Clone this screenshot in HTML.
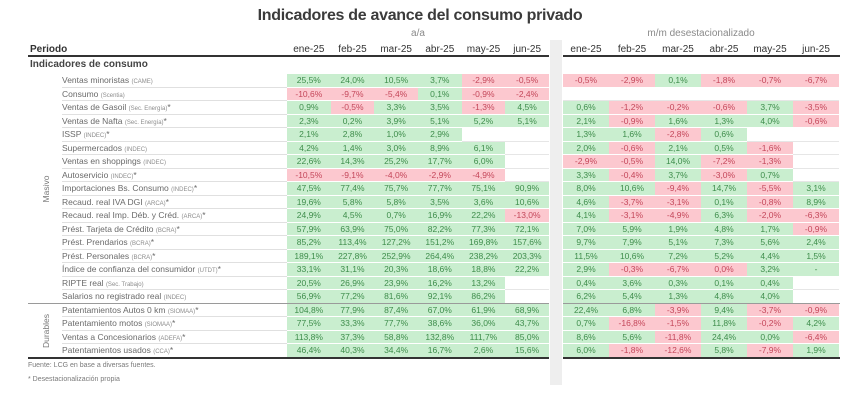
<!DOCTYPE html>
<html><head><meta charset="utf-8">
<style>
*{margin:0;padding:0;box-sizing:border-box}
body{width:850px;height:403px;background:#fff;position:relative;overflow:hidden;font-family:"Liberation Sans",sans-serif}
.a{position:absolute;white-space:nowrap}
.title{left:0;width:840px;top:6px;text-align:center;font-size:16px;font-weight:bold;color:#3b3b3b;letter-spacing:-0.3px;line-height:20px}
.sub{top:28px;font-size:10px;color:#8a8a8a;text-align:center;line-height:12px}
.hd{top:44px;font-size:10px;color:#333;text-align:center;line-height:12px}
.row{position:absolute;left:0;width:850px;height:13.5px}
.lb{position:absolute;left:62px;top:0;width:225px;height:13.5px;border-bottom:1px solid #e0e0e0;font-size:8.5px;color:#6a6a6a;line-height:13px;white-space:nowrap}
.lb small{font-size:6px;color:#8c8c8c}
.L,.R{position:absolute;top:0;display:flex;height:13.5px}
.L{left:287px}.R{left:563px}
.L span{width:43.67px}.R span{width:46px}
.L span,.R span{display:block;height:13.5px;border-bottom:1px solid #fff;font-size:8.5px;text-align:center;line-height:13px}
.g{background:#c9eecf;color:#3e8d4b}
.r{background:#fcc8cf;color:#c4475a}
.b{border-bottom:1px solid #e6e6e6 !important;background:#fff}
.line{position:absolute;height:2px;background:#333}
.thin{position:absolute;height:1px;background:#9a9a9a}
.rot{position:absolute;font-size:8.5px;color:#777;transform:rotate(-90deg);transform-origin:center center;text-align:center;width:60px;height:12px;line-height:12px}
.fn{left:28px;font-size:7px;color:#7a7a7a;line-height:9px}
</style></head><body>

<div class="a title">Indicadores de avance del consumo privado</div>
<div class="a sub" style="left:368px;width:100px">a/a</div>
<div class="a sub" style="left:601px;width:200px">m/m desestacionalizado</div>

<div style="position:absolute;left:550px;top:40px;width:12px;height:345px;background:#eeeeee"></div>

<div class="a" style="left:30px;top:44px;font-size:10px;font-weight:bold;color:#333;line-height:12px">Periodo</div>
<div class="a hd" style="left:287px;width:43.67px">ene-25</div>
<div class="a hd" style="left:330.67px;width:43.67px">feb-25</div>
<div class="a hd" style="left:374.33px;width:43.67px">mar-25</div>
<div class="a hd" style="left:418px;width:43.67px">abr-25</div>
<div class="a hd" style="left:461.67px;width:43.67px">may-25</div>
<div class="a hd" style="left:505.33px;width:43.67px">jun-25</div>
<div class="a hd" style="left:563px;width:46px">ene-25</div>
<div class="a hd" style="left:609px;width:46px">feb-25</div>
<div class="a hd" style="left:655px;width:46px">mar-25</div>
<div class="a hd" style="left:701px;width:46px">abr-25</div>
<div class="a hd" style="left:747px;width:46px">may-25</div>
<div class="a hd" style="left:793px;width:46px">jun-25</div>

<div class="line" style="left:28px;width:521px;top:55px"></div>
<div class="line" style="left:563px;width:277px;top:55px"></div>

<div class="a" style="left:30px;top:59px;font-size:10px;font-weight:bold;color:#444;line-height:12px">Indicadores de consumo</div>

<div class="row" style="top:74px"><div class="lb">Ventas minoristas <small>(CAME)</small></div>
<div class="L"><span class="g">25,5%</span><span class="g">24,0%</span><span class="g">10,5%</span><span class="g">3,7%</span><span class="r">-2,9%</span><span class="r">-0,5%</span></div>
<div class="R"><span class="r">-0,5%</span><span class="r">-2,9%</span><span class="g">0,1%</span><span class="r">-1,8%</span><span class="r">-0,7%</span><span class="r">-6,7%</span></div></div>

<div class="row" style="top:87.5px"><div class="lb">Consumo <small>(Scentia)</small></div>
<div class="L"><span class="r">-10,6%</span><span class="r">-9,7%</span><span class="r">-5,4%</span><span class="g">0,1%</span><span class="r">-0,9%</span><span class="r">-2,4%</span></div>
<div class="R"><span class="b"></span><span class="b"></span><span class="b"></span><span class="b"></span><span class="b"></span><span class="b"></span></div></div>

<div class="row" style="top:101px"><div class="lb">Ventas de Gasoil <small>(Sec. Energía)</small>*</div>
<div class="L"><span class="g">0,9%</span><span class="r">-0,5%</span><span class="g">3,3%</span><span class="g">3,5%</span><span class="r">-1,3%</span><span class="g">4,5%</span></div>
<div class="R"><span class="g">0,6%</span><span class="r">-1,2%</span><span class="r">-0,2%</span><span class="r">-0,6%</span><span class="g">3,7%</span><span class="r">-3,5%</span></div></div>

<div class="row" style="top:114.5px"><div class="lb">Ventas de Nafta <small>(Sec. Energía)</small>*</div>
<div class="L"><span class="g">2,3%</span><span class="g">0,2%</span><span class="g">3,9%</span><span class="g">5,1%</span><span class="g">5,2%</span><span class="g">5,1%</span></div>
<div class="R"><span class="g">2,1%</span><span class="r">-0,9%</span><span class="g">1,6%</span><span class="g">1,3%</span><span class="g">4,0%</span><span class="r">-0,6%</span></div></div>

<div class="row" style="top:128px"><div class="lb">ISSP <small>(INDEC)</small>*</div>
<div class="L"><span class="g">2,1%</span><span class="g">2,8%</span><span class="g">1,0%</span><span class="g">2,9%</span><span class="b"></span><span class="b"></span></div>
<div class="R"><span class="g">1,3%</span><span class="g">1,6%</span><span class="r">-2,8%</span><span class="g">0,6%</span><span class="b"></span><span class="b"></span></div></div>

<div class="row" style="top:141.5px"><div class="lb">Supermercados <small>(INDEC)</small></div>
<div class="L"><span class="g">4,2%</span><span class="g">1,4%</span><span class="g">3,0%</span><span class="g">8,9%</span><span class="g">6,1%</span><span class="b"></span></div>
<div class="R"><span class="g">2,0%</span><span class="r">-0,6%</span><span class="g">2,1%</span><span class="g">0,5%</span><span class="r">-1,6%</span><span class="b"></span></div></div>

<div class="row" style="top:155px"><div class="lb">Ventas en shoppings <small>(INDEC)</small></div>
<div class="L"><span class="g">22,6%</span><span class="g">14,3%</span><span class="g">25,2%</span><span class="g">17,7%</span><span class="g">6,0%</span><span class="b"></span></div>
<div class="R"><span class="r">-2,9%</span><span class="r">-0,5%</span><span class="g">14,0%</span><span class="r">-7,2%</span><span class="r">-1,3%</span><span class="b"></span></div></div>

<div class="row" style="top:168.5px"><div class="lb">Autoservicio <small>(INDEC)</small>*</div>
<div class="L"><span class="r">-10,5%</span><span class="r">-9,1%</span><span class="r">-4,0%</span><span class="r">-2,9%</span><span class="r">-4,9%</span><span class="b"></span></div>
<div class="R"><span class="g">3,3%</span><span class="r">-0,4%</span><span class="g">3,7%</span><span class="r">-3,0%</span><span class="g">0,7%</span><span class="b"></span></div></div>

<div class="row" style="top:182px"><div class="lb">Importaciones Bs. Consumo <small>(INDEC)</small>*</div>
<div class="L"><span class="g">47,5%</span><span class="g">77,4%</span><span class="g">75,7%</span><span class="g">77,7%</span><span class="g">75,1%</span><span class="g">90,9%</span></div>
<div class="R"><span class="g">8,0%</span><span class="g">10,6%</span><span class="r">-9,4%</span><span class="g">14,7%</span><span class="r">-5,5%</span><span class="g">3,1%</span></div></div>

<div class="row" style="top:195.5px"><div class="lb">Recaud. real IVA DGI <small>(ARCA)</small>*</div>
<div class="L"><span class="g">19,6%</span><span class="g">5,8%</span><span class="g">5,8%</span><span class="g">3,5%</span><span class="g">3,6%</span><span class="g">10,6%</span></div>
<div class="R"><span class="g">4,6%</span><span class="r">-3,7%</span><span class="r">-3,1%</span><span class="g">0,1%</span><span class="r">-0,8%</span><span class="g">8,9%</span></div></div>

<div class="row" style="top:209px"><div class="lb">Recaud. real Imp. Déb. y Créd. <small>(ARCA)</small>*</div>
<div class="L"><span class="g">24,9%</span><span class="g">4,5%</span><span class="g">0,7%</span><span class="g">16,9%</span><span class="g">22,2%</span><span class="r">-13,0%</span></div>
<div class="R"><span class="g">4,1%</span><span class="r">-3,1%</span><span class="r">-4,9%</span><span class="g">6,3%</span><span class="r">-2,0%</span><span class="r">-6,3%</span></div></div>

<div class="row" style="top:222.5px"><div class="lb">Prést. Tarjeta de Crédito <small>(BCRA)</small>*</div>
<div class="L"><span class="g">57,9%</span><span class="g">63,9%</span><span class="g">75,0%</span><span class="g">82,2%</span><span class="g">77,3%</span><span class="g">72,1%</span></div>
<div class="R"><span class="g">7,0%</span><span class="g">5,9%</span><span class="g">1,9%</span><span class="g">4,8%</span><span class="g">1,7%</span><span class="r">-0,9%</span></div></div>

<div class="row" style="top:236px"><div class="lb">Prést. Prendarios <small>(BCRA)</small>*</div>
<div class="L"><span class="g">85,2%</span><span class="g">113,4%</span><span class="g">127,2%</span><span class="g">151,2%</span><span class="g">169,8%</span><span class="g">157,6%</span></div>
<div class="R"><span class="g">9,7%</span><span class="g">7,9%</span><span class="g">5,1%</span><span class="g">7,3%</span><span class="g">5,6%</span><span class="g">2,4%</span></div></div>

<div class="row" style="top:249.5px"><div class="lb">Prést. Personales <small>(BCRA)</small>*</div>
<div class="L"><span class="g">189,1%</span><span class="g">227,8%</span><span class="g">252,9%</span><span class="g">264,4%</span><span class="g">238,2%</span><span class="g">203,3%</span></div>
<div class="R"><span class="g">11,5%</span><span class="g">10,6%</span><span class="g">7,2%</span><span class="g">5,2%</span><span class="g">4,4%</span><span class="g">1,5%</span></div></div>

<div class="row" style="top:263px"><div class="lb">Índice de confianza del consumidor <small>(UTDT)</small>*</div>
<div class="L"><span class="g">33,1%</span><span class="g">31,1%</span><span class="g">20,3%</span><span class="g">18,6%</span><span class="g">18,8%</span><span class="g">22,2%</span></div>
<div class="R"><span class="g">2,9%</span><span class="r">-0,3%</span><span class="r">-6,7%</span><span class="r">0,0%</span><span class="g">3,2%</span><span class="g">-</span></div></div>

<div class="row" style="top:276.5px"><div class="lb">RIPTE real <small>(Sec. Trabajo)</small></div>
<div class="L"><span class="g">20,5%</span><span class="g">26,9%</span><span class="g">23,9%</span><span class="g">16,2%</span><span class="g">13,2%</span><span class="b"></span></div>
<div class="R"><span class="g">0,4%</span><span class="g">3,6%</span><span class="g">0,3%</span><span class="g">0,1%</span><span class="g">0,4%</span><span class="b"></span></div></div>

<div class="row" style="top:290px"><div class="lb" style="border-bottom:none">Salarios no registrado real <small>(INDEC)</small></div>
<div class="L"><span class="g">56,9%</span><span class="g">77,2%</span><span class="g">81,6%</span><span class="g">92,1%</span><span class="g">86,2%</span><span class="b"></span></div>
<div class="R"><span class="g">6,2%</span><span class="g">5,4%</span><span class="g">1,3%</span><span class="g">4,8%</span><span class="g">4,0%</span><span class="b"></span></div></div>

<div class="row" style="top:303.5px"><div class="lb">Patentamientos Autos 0 km <small>(SIOMAA)</small>*</div>
<div class="L"><span class="g">104,8%</span><span class="g">77,9%</span><span class="g">87,4%</span><span class="g">67,0%</span><span class="g">61,9%</span><span class="g">68,9%</span></div>
<div class="R"><span class="g">22,4%</span><span class="g">6,8%</span><span class="r">-3,9%</span><span class="g">9,4%</span><span class="r">-3,7%</span><span class="r">-0,9%</span></div></div>

<div class="row" style="top:317px"><div class="lb">Patentamiento motos <small>(SIOMAA)</small>*</div>
<div class="L"><span class="g">77,5%</span><span class="g">33,3%</span><span class="g">77,7%</span><span class="g">38,6%</span><span class="g">36,0%</span><span class="g">43,7%</span></div>
<div class="R"><span class="g">0,7%</span><span class="r">-16,8%</span><span class="r">-1,5%</span><span class="g">11,8%</span><span class="r">-0,2%</span><span class="g">4,2%</span></div></div>

<div class="row" style="top:330.5px"><div class="lb">Ventas a Concesionarios <small>(ADEFA)</small>*</div>
<div class="L"><span class="g">113,8%</span><span class="g">37,3%</span><span class="g">58,8%</span><span class="g">132,8%</span><span class="g">111,7%</span><span class="g">85,0%</span></div>
<div class="R"><span class="g">8,6%</span><span class="g">5,6%</span><span class="r">-11,8%</span><span class="g">24,4%</span><span class="g">0,0%</span><span class="r">-6,4%</span></div></div>

<div class="row" style="top:344px"><div class="lb" style="border-bottom:none">Patentamientos usados <small>(CCA)</small>*</div>
<div class="L"><span class="g">46,4%</span><span class="g">40,3%</span><span class="g">34,4%</span><span class="g">16,7%</span><span class="g">2,6%</span><span class="g">15,6%</span></div>
<div class="R"><span class="g">6,0%</span><span class="r">-1,8%</span><span class="r">-12,6%</span><span class="g">5,8%</span><span class="r">-7,9%</span><span class="g">1,9%</span></div></div>

<div class="thin" style="left:28px;width:521px;top:303px"></div>
<div class="thin" style="left:563px;width:277px;top:303px"></div>
<div class="line" style="left:28px;width:521px;top:357px"></div>
<div class="line" style="left:563px;width:277px;top:357px"></div>

<div class="rot" style="left:16px;top:183px">Masivo</div>
<div class="rot" style="left:16px;top:325px">Durables</div>

<div class="a fn" style="top:361px">Fuente: LCG en base a diversas fuentes.</div>
<div class="a fn" style="top:375px">* Desestacionalización propia</div>

</body></html>
